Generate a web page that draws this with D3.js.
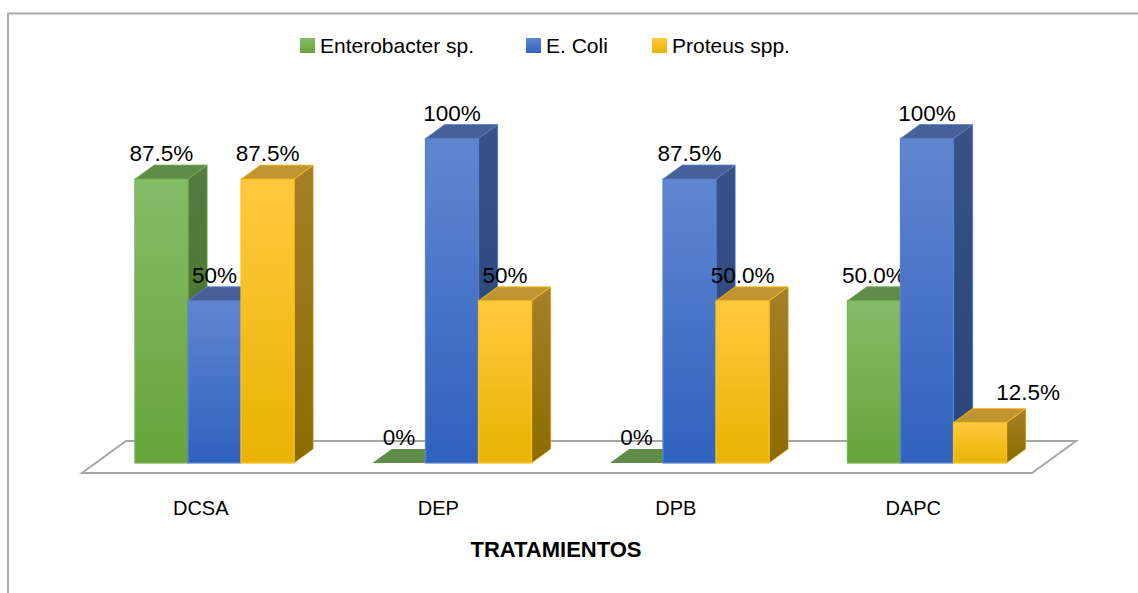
<!DOCTYPE html>
<html>
<head>
<meta charset="utf-8">
<script src="https://cdn.jsdelivr.net/npm/d3@7"></script>
<style>
  body { margin: 0; background: #fff; }
  text { font-family: "Liberation Sans", Arial, sans-serif; fill: #000; }
</style>
</head>
<body>
<div id="chart"></div>
<script>
// data
const categories = ["DCSA", "DEP", "DPB", "DAPC"];
const seriesNames = ["Enterobacter sp.", "E. Coli", "Proteus spp."];
const enterobacter = [0.875, 0, 0, 0.5];
const eColi = [0.5, 1, 0.875, 1];
const proteus = [0.875, 0.5, 0.5, 0.125];
const enterobacterLabels = ["87.5%", "0%", "0%", "50.0%"];
const eColiLabels = ["50%", "100%", "87.5%", "100%"];
const proteusLabels = ["87.5%", "50%", "50.0%", "12.5%"];

const W = 1138, H = 593;

// colours per series: front top / front bottom / top face / side top / side bottom / edge
const palette = [
  { ft: "#85bc67", fb: "#67a43a", top: "#5f8c48", st: "#547d3d", sb: "#46702c", edge: "#77b256" },
  { ft: "#6086d0", fb: "#2f62bf", top: "#46609a", st: "#385287", sb: "#26457a", edge: "#5a82cf" },
  { ft: "#ffca3f", fb: "#e8b300", top: "#c09531", st: "#a58028", sb: "#8b6c00", edge: "#ffc31a" }
];

const svg = d3.select("#chart").append("svg")
  .attr("width", W)
  .attr("height", H);

// outer chart border (runs off right and bottom)
svg.append("rect")
  .attr("x", 8).attr("y", 13.5)
  .attr("width", 1300).attr("height", 800)
  .attr("fill", "none")
  .attr("stroke", "#ababab")
  .attr("stroke-width", 2);

// gradients
const defs = svg.append("defs");
palette.forEach((p, i) => {
  const g = defs.append("linearGradient").attr("id", "front" + i)
    .attr("x1", 0).attr("y1", 0).attr("x2", 0).attr("y2", 1);
  g.append("stop").attr("offset", 0).attr("stop-color", p.ft);
  g.append("stop").attr("offset", 1).attr("stop-color", p.fb);
  const s = defs.append("linearGradient").attr("id", "side" + i)
    .attr("x1", 0).attr("y1", 0).attr("x2", 0).attr("y2", 1);
  s.append("stop").attr("offset", 0).attr("stop-color", p.st);
  s.append("stop").attr("offset", 1).attr("stop-color", p.sb);
});

// floor geometry (front edge + depth vector)
const floorFront = 473;
const depth = [44, -32];           // full floor depth
const barStart = 10 / 32;          // bar front, as fraction of floor depth
const barDepth = 14 / 32;          // bar depth, as fraction of floor depth

const x = d3.scaleBand()
  .domain(categories)
  .range([82, 1032])
  .paddingInner(0.33)
  .paddingOuter(0.165);

const xs = d3.scaleBand()
  .domain(seriesNames)
  .range([0, x.bandwidth()]);

const baseY = floorFront + depth[1] * barStart;
const y = d3.scaleLinear().domain([0, 1]).range([baseY, 138.5]);

const offX = depth[0] * barStart;
const dX = depth[0] * barDepth, dY = depth[1] * barDepth;

// floor
const fl = x.range()[0], fr = x.range()[1];
svg.append("path")
  .attr("d", `M${fl},${floorFront} L${fr},${floorFront} L${fr + depth[0]},${floorFront + depth[1]} L${fl + depth[0]},${floorFront + depth[1]} Z`)
  .attr("fill", "none")
  .attr("stroke", "#a6a6a6")
  .attr("stroke-width", 2);

const allValues = [enterobacter, eColi, proteus];
const allLabels = [enterobacterLabels, eColiLabels, proteusLabels];

const bars = [];
categories.forEach((c, ci) => {
  seriesNames.forEach((s, si) => {
    bars.push({ c, s, si, v: allValues[si][ci], label: allLabels[si][ci] });
  });
});

const g = svg.append("g");
bars.forEach(b => {
  const x0 = x(b.c) + xs(b.s) + offX;
  const x1 = x0 + xs.bandwidth();
  const yt = y(b.v), yb = y(0);
  const p = palette[b.si];
  const bar = g.append("g");
  if (b.v > 0) {
    // side face
    bar.append("path")
      .attr("d", `M${x1},${yt} L${x1 + dX},${yt + dY} L${x1 + dX},${yb + dY} L${x1},${yb} Z`)
      .attr("fill", `url(#side${b.si})`)
      .attr("stroke", p.edge).attr("stroke-width", 1).attr("stroke-opacity", 0.5);
    // front face
    bar.append("rect")
      .attr("x", x0).attr("y", yt)
      .attr("width", x1 - x0).attr("height", yb - yt)
      .attr("fill", `url(#front${b.si})`)
      .attr("stroke", p.edge).attr("stroke-width", 1.2);
  }
  // top face
  bar.append("path")
    .attr("d", `M${x0},${yt} L${x1},${yt} L${x1 + dX},${yt + dY} L${x0 + dX},${yt + dY} Z`)
    .attr("fill", p.top)
    .attr("stroke", p.edge).attr("stroke-width", 1).attr("stroke-opacity", b.v > 0 ? 0.8 : 0);
  // value label (the short last bar gets its label nudged right, like the original)
  const nudge = b.c === "DAPC" && b.si === 2;
  g.append("text")
    .attr("x", (x0 + x1) / 2 + (nudge ? 48 : 0))
    .attr("y", yt + dY - (nudge ? 8 : 4))
    .attr("text-anchor", "middle")
    .attr("font-size", "22.5px")
    .text(b.label);
});

// category labels
svg.selectAll(".cat")
  .data(categories)
  .join("text")
  .attr("class", "cat")
  .attr("x", d => x(d) + x.bandwidth() / 2)
  .attr("y", 515)
  .attr("text-anchor", "middle")
  .attr("font-size", "20px")
  .text(d => d);

// axis title
svg.append("text")
  .attr("x", 556)
  .attr("y", 557)
  .attr("text-anchor", "middle")
  .attr("font-size", "22px")
  .attr("font-weight", "bold")
  .text("TRATAMIENTOS");

// legend
const legendX = [300, 526, 652];
const legend = svg.selectAll(".leg")
  .data(seriesNames)
  .join("g")
  .attr("class", "leg")
  .attr("transform", (d, i) => `translate(${legendX[i]},38)`);
legend.append("rect")
  .attr("width", 15).attr("height", 15)
  .attr("fill", (d, i) => `url(#front${i})`);
legend.append("text")
  .attr("x", 20)
  .attr("y", 15)
  .attr("font-size", "21px")
  .text(d => d);
</script>
</body>
</html>
